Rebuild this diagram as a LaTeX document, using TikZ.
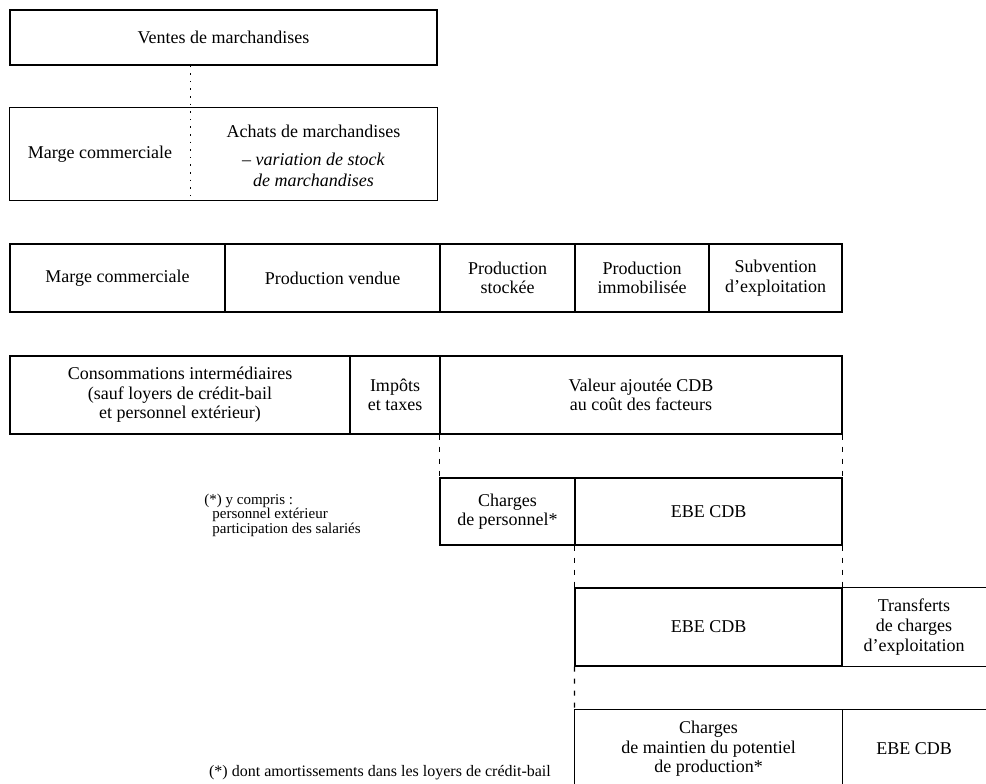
\documentclass[tikz,border=0pt]{standalone}
\usepackage{fontspec}
\setmainfont{Liberation Serif}
\usepackage{tikz}
\usetikzlibrary{positioning}

\begin{document}
\begin{tikzpicture}[x=0.5pt, y=-0.5pt,
  cell/.style={draw, line width=0.6pt, inner sep=1pt, align=center, font=\fontsize{9}{9.8}\selectfont},
  open/.style={inner sep=1pt, align=center, font=\fontsize{9}{9.8}\selectfont},
  note/.style={inner sep=0pt, align=left, font=\fontsize{7.5}{7.2}\selectfont},
  rule/.style={line width=0.6pt},
  link/.style={line width=0.6pt, dash pattern=on 2.5pt off 3.5pt},
  dots/.style={line width=0.7pt, dash pattern=on 0.8pt off 3pt}]
  \useasboundingbox (0,0) rectangle (986,783);

  % Ventes et marge commerciale
  \node[cell, minimum width=213.5pt, minimum height=27.5pt] (vm) at (223.5,37.5) {Ventes de marchandises};
  \node[open, minimum width=90pt, minimum height=46pt] (mc) at (100,154) {Marge commerciale};
  \node[open, minimum width=123.5pt, minimum height=46pt] (am) at (313.5,156) {Achats de marchandises\\[4pt] \textit{-- variation de stock}\\[0.8pt] \textit{de marchandises}};
  \draw[rule] (mc.north west) rectangle (mc.south west -| am.east);
  \draw[dots] (vm.south -| mc.east) -- (mc.south east);

  % Production de l'exercice
  \node[cell, minimum width=107.5pt, minimum height=34pt] (mc2) at (117.5,278) {Marge commerciale};
  \node[cell, minimum width=107.5pt, minimum height=34pt] (pv) at (332.5,278) {Production vendue};
  \node[cell, minimum width=67.5pt, minimum height=34pt] (ps) at (507.5,278) {Production\\ stockée};
  \node[cell, minimum width=67pt, minimum height=34pt] (pi) at (642,278) {Production\\ immobilisée};
  \node[cell, minimum width=66.5pt, minimum height=34pt] (se) at (775.5,278) {Subvention\\ d'exploitation};

  % Valeur ajoutee
  \node[cell, minimum width=170pt, minimum height=39pt] (ci) at (180,395) {Consommations intermédiaires\\ (sauf loyers de crédit-bail\\ et personnel extérieur)};
  \node[cell, minimum width=45pt, minimum height=39pt] (it) at (395,395) {Impôts\\ et taxes};
  \node[cell, minimum width=201pt, minimum height=39pt] (va) at (641,395) {Valeur ajoutée CDB\\ au coût des facteurs};

  % EBE
  \node[cell, minimum width=67.5pt, minimum height=33.5pt] (cp) at (507.5,511.5) {Charges\\ de personnel*};
  \node[cell, minimum width=133.5pt, minimum height=33.5pt] (ebe1) at (708.5,511.5) {EBE CDB};
  \node[note, anchor=west] (fn1) at (204,515) {(*) y compris :\\ \hspace*{4pt}personnel extérieur\\ \hspace*{4pt}participation des salariés};
  \draw[link] (va.south west) -- (cp.north west);
  \draw[link] (va.south east) -- (ebe1.north east);

  % Transferts de charges
  \node[cell, minimum width=133.5pt, minimum height=39pt] (ebe2) at (708.5,627) {EBE CDB};
  \node[open, minimum width=72pt, minimum height=39pt] (tc) at (914,627) {Transferts\\ de charges\\ d'exploitation};
  \draw[rule] (tc.north west) -- (tc.north east) (tc.south west) -- (tc.south east);
  \draw[link] (ebe1.south west) -- (ebe2.north west);
  \draw[link] (ebe1.south east) -- (ebe2.north east);

  % Maintien du potentiel
  \node[open, minimum width=133.5pt, minimum height=39pt] (mp) at (708.5,749) {Charges\\ de maintien du potentiel\\ de production*};
  \node[open, minimum width=72pt, minimum height=39pt] (ebe3) at (914,749) {EBE CDB};
  \draw[rule] (mp.south west) -- (mp.north west) -- (ebe3.north east);
  \draw[rule] (mp.north east) -- (mp.south east);
  \draw[link] (ebe2.south west) -- (mp.north west);
  \node[note, font=\fontsize{8}{8}\selectfont] (fn2) at (380,773) {(*) dont amortissements dans les loyers de crédit-bail};
\end{tikzpicture}
\end{document}
